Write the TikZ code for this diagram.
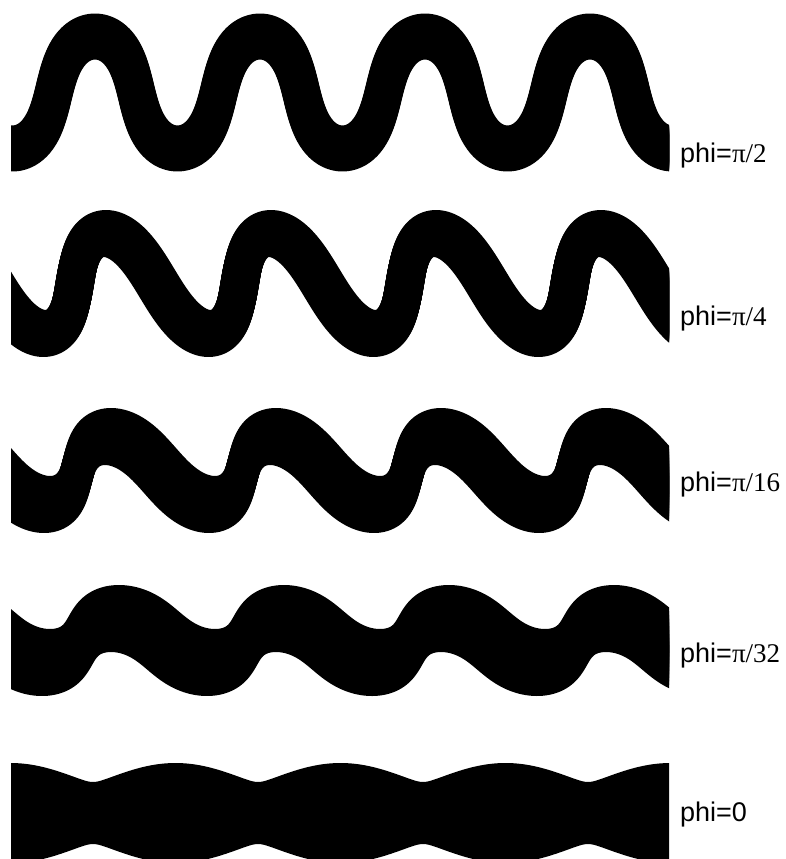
\documentclass[tikz,border=0pt]{standalone}
\usepackage{fontspec}
\setmainfont{Liberation Sans}
\newfontfamily\serfont{Liberation Serif}
\begin{document}
\begin{tikzpicture}[x=1pt,y=-1pt]
\tikzset{
  wave/.style={line width=#1, line cap=round, line join=round, draw=black},
  lab/.style={anchor=base west, inner sep=0pt, font=\fontsize{27}{31}\selectfont}
}
\useasboundingbox (0,0) rectangle (785,859);
\fill[white] (0,0) rectangle (785,859);
% \wavrow{xb}{period}{skew}{steep}{yc}{amp}{pen diameter}{hx}{hy}
\newcommand\wavrow[9]{%
  \begin{scope}
    \clip (11,#5-110) rectangle (669,#5+110);
    \pgfmathsetmacro\tA{(-80-#1)/#2*360}
    \pgfmathsetmacro\tB{(750-#1)/#2*360}
    \foreach \f in {-1,-0.8,-0.6,-0.4,-0.2,0,0.2,0.4,0.6,0.8,1}{
      \draw[wave=#7, shift={(\f*#8,-\f*#9)}]
        plot[domain=\tA:\tB, samples=400, variable=\t, smooth]
        ({#1+\t/360*#2+#3*cos(\t)+#4*sin(2*\t)},{#5-#6*cos(\t)});
    }
  \end{scope}}
% row 1 : phi = pi/2
\wavrow{95}{165}{0}{6.3}{92.5}{56}{36}{0}{5}
% row 2 : phi = pi/4
\wavrow{116}{165}{-11}{3.5}{283.5}{50}{38}{1}{4.5}
% row 3 : phi = pi/16
\wavrow{118.75}{165}{-10.75}{3.5}{470.5}{34}{34}{3}{11.5}
% row 4 : phi = pi/32
\wavrow{121.75}{165}{-6.75}{3.5}{640.5}{22}{36}{4}{15.5}
% row 5 : phi = 0
\begin{scope}
  \clip (11,700) rectangle (669,859);
  \fill[black]
    plot[domain=0:680, samples=400, variable=\u]
      (\u,{782-19*(sqrt((sin((\u-93)/165*180))^2+0.0225)-0.15)/(sqrt(1.0225)-0.15)})
    -- plot[domain=680:0, samples=400, variable=\u]
      (\u,{844+19*(sqrt((sin((\u-93)/165*180))^2+0.0225)-0.15)/(sqrt(1.0225)-0.15)})
    -- cycle;
\end{scope}
\node[lab] (l1) at (680,162) {phi=\serfont π/2};
\node[lab] (l2) at (680,325) {phi=\serfont π/4};
\node[lab] (l3) at (680,491) {phi=\serfont π/16};
\node[lab] (l4) at (680,662) {phi=\serfont π/32};
\node[lab] (l5) at (680,821) {phi=0};
\end{tikzpicture}
\end{document}
